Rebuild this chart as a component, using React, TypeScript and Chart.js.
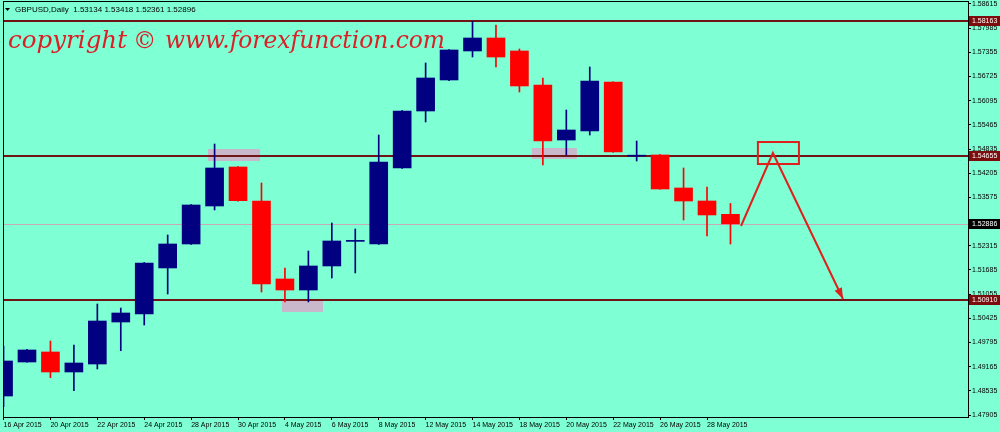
import React, { useEffect, useRef } from "react";
import { Chart, registerables } from "chart.js";
Chart.register(...registerables);

// ---- data ----
const dates = [
  "16 Apr 2015", "17 Apr 2015", "20 Apr 2015", "21 Apr 2015", "22 Apr 2015", "23 Apr 2015",
  "24 Apr 2015", "27 Apr 2015", "28 Apr 2015", "29 Apr 2015", "30 Apr 2015", "1 May 2015",
  "4 May 2015", "5 May 2015", "6 May 2015", "7 May 2015", "8 May 2015", "11 May 2015",
  "12 May 2015", "13 May 2015", "14 May 2015", "15 May 2015", "18 May 2015", "19 May 2015",
  "20 May 2015", "21 May 2015", "22 May 2015", "25 May 2015", "26 May 2015", "27 May 2015",
  "28 May 2015", "29 May 2015",
];
const opens = [1.48401, 1.49287, 1.49548, 1.49027, 1.49235, 1.50329, 1.50538, 1.51737, 1.52362, 1.53352, 1.54368, 1.53482, 1.5145, 1.51163, 1.51789, 1.5243, 1.52362, 1.54342, 1.55827, 1.56635, 1.57391, 1.57729, 1.57391, 1.56505, 1.55071, 1.55306, 1.56583, 1.5465, 1.54681, 1.53821, 1.53482, 1.53134];
const highs = [1.49704, 1.4962, 1.49834, 1.4973, 1.50798, 1.50694, 1.5188, 1.52597, 1.5339, 1.54967, 1.5438, 1.53951, 1.51737, 1.52179, 1.52909, 1.52753, 1.55202, 1.5584, 1.57078, 1.5743, 1.58163, 1.58068, 1.57443, 1.56687, 1.55853, 1.56974, 1.5659, 1.55045, 1.5469, 1.54342, 1.53847, 1.53418];
const lows = [1.48123, 1.4928, 1.48878, 1.48539, 1.49105, 1.49581, 1.50251, 1.51059, 1.5235, 1.53248, 1.5348, 1.51111, 1.50851, 1.50851, 1.51476, 1.51607, 1.5235, 1.5433, 1.55541, 1.5662, 1.57234, 1.56974, 1.56322, 1.5442, 1.54681, 1.55202, 1.5475, 1.54524, 1.5379, 1.52987, 1.5257, 1.52361];
const closes = [1.49313, 1.496, 1.49027, 1.49261, 1.50355, 1.50564, 1.51867, 1.52362, 1.53378, 1.54342, 1.5349, 1.5132, 1.51163, 1.51789, 1.5244, 1.5245, 1.54498, 1.55827, 1.56687, 1.57417, 1.57729, 1.57234, 1.56479, 1.55045, 1.55332, 1.56609, 1.54759, 1.5466, 1.53795, 1.53482, 1.53118, 1.52886];

const yTicks = [1.58615, 1.57985, 1.57355, 1.56725, 1.56095, 1.55465, 1.54835, 1.54205, 1.53575, 1.52945, 1.52315, 1.51685, 1.51055, 1.50425, 1.49795, 1.49165, 1.48535, 1.47905];
const xTickIdx = [0, 2, 4, 6, 8, 10, 12, 14, 16, 18, 20, 22, 24, 26, 28, 30];

const levelPrices = [1.58163, 1.54655, 1.5091];
const levelLabels = ["1.58163", "1.54655", "1.50910"];
const lastPrice = 1.52886;
const lastLabel = "1.52886";
const headerText = "GBPUSD,Daily  1.53134 1.53418 1.52361 1.52896";

// highlighted zones (bar index range, price range)
const zoneStart = [8.72, 11.87, 22.53];
const zoneEnd = [10.94, 13.62, 24.45];
const zoneTop = [1.54837, 1.50929, 1.54863];
const zoneBottom = [1.54524, 1.5059, 1.54576];

// projected path and target box
const pathIdx = [31.45, 32.81, 35.8];
const pathPrice = [1.52831, 1.54733, 1.50929];
const boxIdx = [32.17, 33.92];
const boxPrice = [1.55019, 1.54446];

const X_MIN = -0.023;
const X_MAX = 41.13;
const Y_MIN = 1.47854;
const Y_MAX = 1.58693;

// ---- styles ----
const BG = "#7fffd4";
const BULL = "#000080";
const BEAR = "#ff0000";
const LEVEL = "#701515";
const ZONE = "#c9b8cb";
const MARK = "#e0201c";
const FONT = '"Liberation Sans", Arial, sans-serif';

const bgPlugin = {
  id: "bgFill",
  beforeDraw(chart: any) {
    const { ctx, width, height } = chart;
    ctx.save();
    ctx.fillStyle = BG;
    ctx.fillRect(0, 0, width, height);
    ctx.restore();
  },
};

const annotPlugin = {
  id: "annot",
  beforeDatasetsDraw(chart: any) {
    const { ctx, chartArea: a, scales } = chart;
    const x = scales.x, y = scales.y;
    ctx.save();
    ctx.fillStyle = ZONE;
    for (let i = 0; i < zoneStart.length; i++) {
      const x0 = x.getPixelForValue(zoneStart[i]);
      const x1 = x.getPixelForValue(zoneEnd[i]);
      const y0 = y.getPixelForValue(zoneTop[i]);
      const y1 = y.getPixelForValue(zoneBottom[i]);
      ctx.fillRect(x0, y0, x1 - x0, y1 - y0);
    }
    // current price line
    const yl = Math.round(y.getPixelForValue(lastPrice)) + 0.5;
    ctx.strokeStyle = "#c9a9b6";
    ctx.lineWidth = 1;
    ctx.beginPath();
    ctx.moveTo(a.left, yl);
    ctx.lineTo(a.right, yl);
    ctx.stroke();
    // level lines
    ctx.strokeStyle = LEVEL;
    ctx.lineWidth = 2;
    for (const p of levelPrices) {
      const yy = Math.round(y.getPixelForValue(p));
      ctx.beginPath();
      ctx.moveTo(a.left, yy);
      ctx.lineTo(a.right, yy);
      ctx.stroke();
    }
    ctx.restore();
  },
  afterDraw(chart: any) {
    const { ctx, chartArea: a, scales } = chart;
    const x = scales.x, y = scales.y;
    ctx.save();
    // frame
    ctx.strokeStyle = "#000";
    ctx.lineWidth = 1;
    ctx.strokeRect(Math.round(a.left) + 0.5, Math.round(a.top) + 0.5, Math.round(a.right - a.left), Math.round(a.bottom - a.top));

    // header
    ctx.fillStyle = "#000";
    ctx.beginPath();
    ctx.moveTo(5, 8);
    ctx.lineTo(10, 8);
    ctx.lineTo(7.5, 11);
    ctx.closePath();
    ctx.fill();
    ctx.font = `8px ${FONT}`;
    ctx.textBaseline = "alphabetic";
    ctx.textAlign = "left";
    ctx.fillText(headerText, 15, 12);

    // watermark
    ctx.fillStyle = "#dc1e26";
    const w1 = "www.forexfunction.com";
    ctx.font = `italic 24px "DejaVu Serif", serif`;
    const m = ctx.measureText(w1).width;
    const fs = 24 * 280 / m;
    ctx.font = `italic ${fs.toFixed(2)}px "DejaVu Serif", serif`;
    const mc = ctx.measureText("copyright").width;
    ctx.save();
    ctx.translate(8, 48);
    ctx.scale(119 / mc, 1);
    ctx.fillText("copyright", 0, 0);
    ctx.restore();
    ctx.fillText("\u00a9", 133, 48);
    ctx.fillText(w1, 165, 48);

    // target box & path
    ctx.strokeStyle = MARK;
    ctx.fillStyle = MARK;
    ctx.lineWidth = 2;
    const bx0 = x.getPixelForValue(boxIdx[0]), bx1 = x.getPixelForValue(boxIdx[1]);
    const by0 = y.getPixelForValue(boxPrice[0]), by1 = y.getPixelForValue(boxPrice[1]);
    ctx.strokeRect(bx0, by0, bx1 - bx0, by1 - by0);
    const pts = pathIdx.map((v, i) => [x.getPixelForValue(v), y.getPixelForValue(pathPrice[i])]);
    ctx.beginPath();
    ctx.moveTo(pts[0][0], pts[0][1]);
    for (let i = 1; i < pts.length; i++) ctx.lineTo(pts[i][0], pts[i][1]);
    ctx.stroke();
    const [ex, ey] = pts[pts.length - 1];
    const [sx, sy] = pts[pts.length - 2];
    const ang = Math.atan2(ey - sy, ex - sx);
    ctx.beginPath();
    ctx.moveTo(ex, ey);
    ctx.lineTo(ex - 11 * Math.cos(ang) + 4 * Math.sin(ang), ey - 11 * Math.sin(ang) - 4 * Math.cos(ang));
    ctx.lineTo(ex - 11 * Math.cos(ang) - 4 * Math.sin(ang), ey - 11 * Math.sin(ang) + 4 * Math.cos(ang));
    ctx.closePath();
    ctx.fill();

    // price labels on right axis
    ctx.font = `7px ${FONT}`;
    ctx.textBaseline = "middle";
    const drawTag = (p: number, txt: string, bg: string) => {
      const yy = Math.round(y.getPixelForValue(p));
      ctx.fillStyle = bg;
      ctx.fillRect(a.right + 1, yy - 5, 31, 10);
      ctx.fillStyle = "#ffffff";
      ctx.fillText(txt, a.right + 4, yy + 0.5);
    };
    levelPrices.forEach((p, i) => drawTag(p, levelLabels[i], "#7d0c0c"));
    drawTag(lastPrice, lastLabel, "#000000");
    ctx.restore();
  },
};

export default function App() {
  const ref = useRef<HTMLCanvasElement | null>(null);
  useEffect(() => {
    if (!ref.current) return;
    const bull = closes.map((c, i) => c >= opens[i]);
    const colors = bull.map((b) => (b ? BULL : BEAR));
    const chart = new Chart(ref.current, {
      type: "bar",
      data: {
        datasets: [
          {
            label: "body",
            data: opens.map((o, i) => ({ x: i, y: [o, closes[i]] })) as any,
            backgroundColor: colors,
            borderWidth: 0,
            barThickness: 18,
            minBarLength: 1,
            grouped: false,
            order: 1,
          } as any,
          {
            label: "wick",
            data: lows.map((l, i) => ({ x: i, y: [l, highs[i]] })) as any,
            backgroundColor: colors,
            borderWidth: 0,
            barThickness: 1,
            grouped: false,
            order: 2,
          } as any,
        ],
      },
      options: {
        animation: false,
        responsive: false,
        maintainAspectRatio: false,
        layout: { padding: { left: 3, top: 1, right: 0, bottom: 0 } },
        plugins: { legend: { display: false }, tooltip: { enabled: false } },
        scales: {
          x: {
            type: "linear",
            min: X_MIN,
            max: X_MAX,
            offset: false,
            grid: { display: true, drawOnChartArea: false, drawTicks: true, tickLength: 3, color: "#000", offset: false },
            border: { display: true, color: "#000" },
            ticks: {
              autoSkip: false,
              maxRotation: 0,
              minRotation: 0,
              align: "start",
              padding: 1,
              color: "#000",
              font: { family: FONT, size: 7 },
              callback: (v: any) => dates[Math.round(Number(v))] ?? "",
            },
            afterBuildTicks: (s: any) => {
              s.ticks = xTickIdx.map((v) => ({ value: v }));
            },
            afterFit: (s: any) => {
              s.height = 15;
              s.paddingLeft = 0;
              s.paddingRight = 0;
            },
          } as any,
          y: {
            type: "linear",
            position: "right",
            min: Y_MIN,
            max: Y_MAX,
            grid: { display: true, drawOnChartArea: false, drawTicks: true, tickLength: 3, color: "#000" },
            border: { display: true, color: "#000" },
            ticks: {
              padding: 1,
              color: "#000",
              font: { family: FONT, size: 7 },
              callback: (v: any) => Number(v).toFixed(5),
            },
            afterBuildTicks: (s: any) => {
              s.ticks = yTicks.map((v) => ({ value: v }));
            },
            afterFit: (s: any) => {
              s.width = 32;
              s.paddingTop = 0;
              s.paddingBottom = 0;
            },
          } as any,
        },
      },
      plugins: [bgPlugin, annotPlugin],
    });
    return () => chart.destroy();
  }, []);
  return (
    <div style={{ position: "fixed", left: 0, top: 0, width: 1000, height: 432 }}>
      <canvas ref={ref} width={1000} height={432} style={{ display: "block" }} />
    </div>
  );
}
